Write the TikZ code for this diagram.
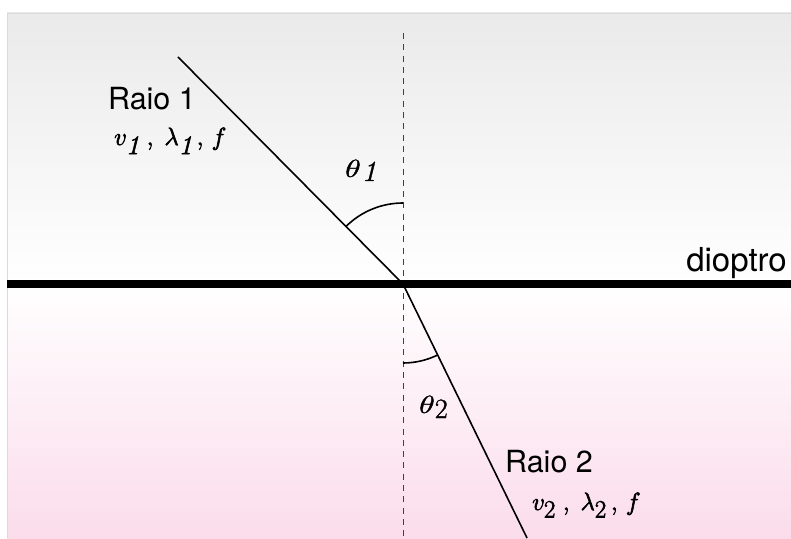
\documentclass[tikz,border=0pt]{standalone}
\usepackage{fontspec}
\setsansfont{TeX Gyre Heros}
\usetikzlibrary{angles}
\definecolor{topgray}{RGB}{234,234,234}
\definecolor{botpink}{RGB}{251,220,235}
\newcommand{\heavytext}[2][0.6]{\special{pdf:literal q 2 Tr #1 w}#2\special{pdf:literal Q}}
\tikzset{
  lbl/.style={inner sep=0pt, anchor=base west, font=\sffamily\fontsize{30.5}{34}\selectfont},
  mlbl/.style={inner sep=0pt, anchor=base west, font=\fontsize{38}{42}\selectfont},
  tlbl/.style={inner sep=0pt, anchor=base west, font=\fontsize{35}{38}\selectfont},
  ray/.style={line width=1.6pt, black},
  arcline/.style={draw, line width=1.6pt, angle radius=81pt},
}
\begin{document}
\begin{tikzpicture}[x=1pt,y=1pt]
\useasboundingbox (0,0) rectangle (791,538);
% backgrounds
\shade[top color=topgray, bottom color=white] (7,254) rectangle (791,525);
\shade[top color=white, bottom color=botpink] (7,0) rectangle (791,254);
\draw[black!15, line width=0.8pt] (7,0) -- (7,525) -- (791,525);
% coordinates
\coordinate (O) at (403,254);
\coordinate (T) at (403,505);
\coordinate (D) at (403,0);
\coordinate (A) at (178,481);
\coordinate (B) at (527,0);
\coordinate (L) at (7,254);
\coordinate (R) at (791,254);
% normal
\draw[black!75, line width=1pt, dash pattern=on 6pt off 5.3pt] (T) -- (D);
% interface
\draw[line width=8pt, black] (L) -- (R);
% rays
\draw[ray] (A) -- (O);
\draw[ray] (O) -- (B);
% angles
\pic[arcline] {angle = T--O--A};
\pic[arcline, angle radius=79pt] {angle = D--O--B};
% labels
\node[lbl] (r1) at (108,428) {Raio 1};
\node[mlbl] (m1) at (114,393) {\heavytext{$v_{\mathit{1}}\;,\;\lambda_{\mathit{1}}\,,\,f$}};
\node[lbl] (r2) at (505,66) {Raio 2};
\node[mlbl] (m2) at (532,28) {\heavytext{$v_{2}\;,\;\lambda_{2}\,,\,f$}};
\node[lbl, anchor=base east, font=\sffamily\fontsize{33}{38}\selectfont] (dp) at (787,266) {dioptro};
\node[tlbl] (t1) at (345,361) {\heavytext[0.35]{\scalebox{1.3}[1]{$\theta$}\kern1pt\raisebox{-4pt}{\fontsize{29}{32}\selectfont\itshape 1}}};
\node[tlbl] (t2) at (419,125) {\heavytext[0.35]{\scalebox{1.3}[1]{$\theta$}\kern0pt\raisebox{-5pt}{\fontsize{28}{32}\selectfont 2}}};
\end{tikzpicture}
\end{document}
